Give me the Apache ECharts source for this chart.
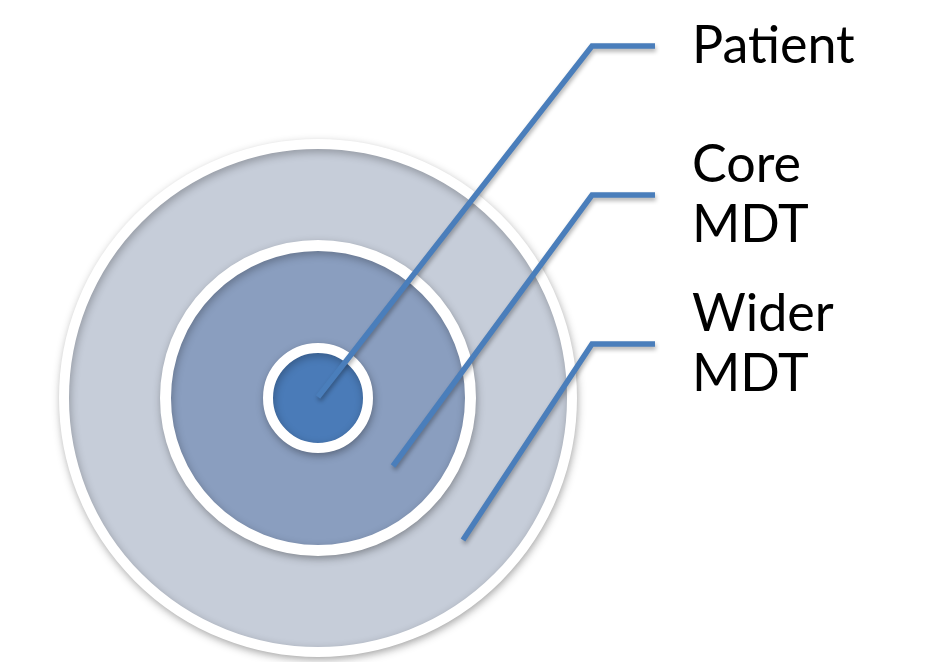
<!DOCTYPE html>
<html>
<head>
<meta charset="utf-8">
<script src="https://cdn.jsdelivr.net/npm/echarts@6/dist/echarts.min.js"></script>
<style>
html,body{margin:0;padding:0;background:#fff;}
#chart{width:935px;height:662px;}
</style>
</head>
<body>
<div id="chart"></div>
<script>
// Ring categories (outer to inner) and their shared centre (data units = picture units)
const ringNames = ['Wider MDT', 'Core MDT', 'Patient'];
const ringCentre = [318, 398];

// Leader lines: [start inside ring, elbow, end at label]
const leaderPatient = [[318, 397], [592, 46], [655, 46]];
const leaderCore = [[393, 466], [592, 195], [655, 195]];
const leaderWider = [[463, 540], [592, 344], [655, 344]];

// Label texts
const labelTexts = ['Patient', 'Core\nMDT', 'Wider\nMDT'];

// Styles (kept separately from data)
const ringStyles = {
  'Wider MDT': { fill: '#c6cdd9', size: 508, border: 10 },
  'Core MDT': { fill: '#8a9ebf', size: 305, border: 11 },
  'Patient': { fill: '#4a7bb8', size: 100, border: 10 }
};
const lineColor = '#4a7ebb';

const chart = echarts.init(document.getElementById('chart'));

const series = [];
ringNames.forEach(function (n, i) {
  const st = ringStyles[n];
  series.push({
    type: 'scatter',
    name: n,
    z: 1 + i,
    symbol: 'circle',
    symbolSize: st.size,
    silent: true,
    itemStyle: {
      color: st.fill,
      borderColor: '#ffffff',
      borderWidth: st.border,
      shadowColor: 'rgba(0,0,0,0.28)',
      shadowBlur: 8,
      shadowOffsetX: 1,
      shadowOffsetY: 3,
      opacity: 1
    },
    emphasis: { disabled: true },
    data: [ringCentre]
  });
});

const leaders = [leaderPatient, leaderCore, leaderWider];
leaders.forEach(function (pts, i) {
  series.push({
    type: 'line',
    name: labelTexts[i],
    z: 10,
    data: pts,
    showSymbol: false,
    symbol: 'none',
    silent: true,
    lineStyle: {
      color: lineColor,
      width: 5.5,
      cap: 'butt',
      join: 'miter',
      shadowColor: 'rgba(0,0,0,0.3)',
      shadowBlur: 4,
      shadowOffsetX: 1,
      shadowOffsetY: 3
    },
    endLabel: {
      show: true,
      formatter: function () { return labelTexts[i]; },
      color: '#000000',
      fontFamily: 'Lato',
      fontSize: 52,
      lineHeight: 60,
      distance: 37
    },
    emphasis: { disabled: true }
  });
});

chart.setOption({
  animation: false,
  backgroundColor: '#ffffff',
  grid: { left: 0, right: 0, top: 0, bottom: 0 },
  xAxis: { type: 'value', min: 0, max: 935, show: false },
  yAxis: { type: 'value', min: 0, max: 662, inverse: true, show: false },
  series: series
});
</script>
</body>
</html>
